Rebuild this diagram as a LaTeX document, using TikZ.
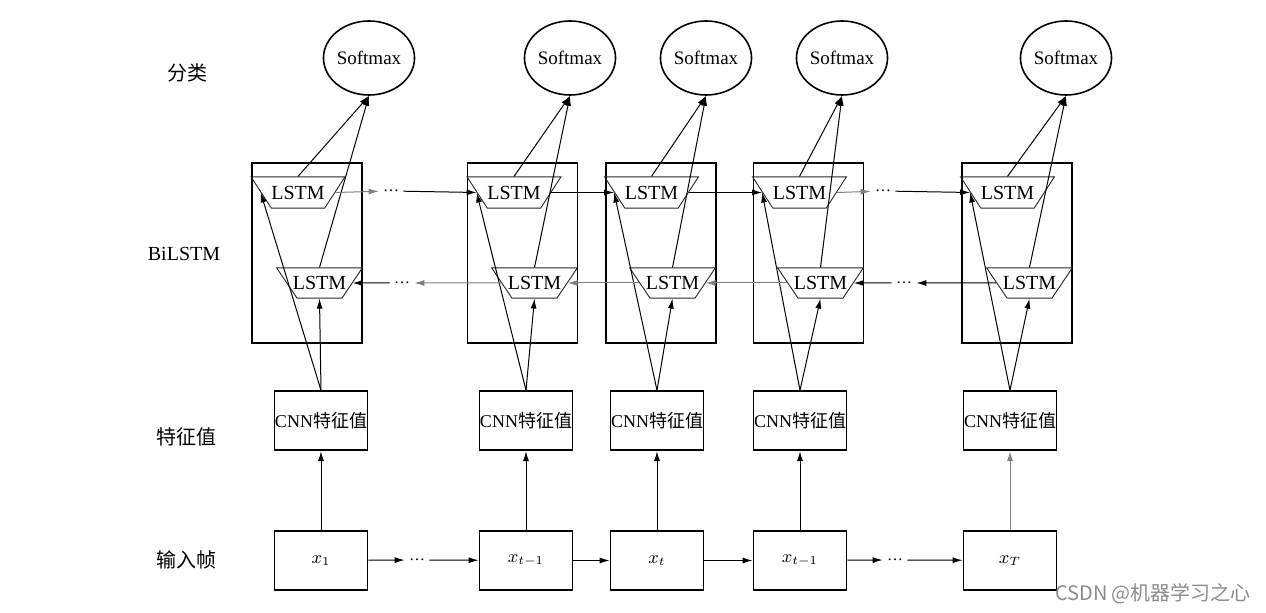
\documentclass[tikz,border=0pt]{standalone}
\usepackage{fontspec}
\setmainfont{Liberation Serif}
\newfontfamily\cjk{Noto Sans CJK SC}
\usetikzlibrary{arrows.meta,positioning,shapes.geometric}
\colorlet{lgray}{black!50}

\begin{document}
\begin{tikzpicture}[x=0.5pt, y=-0.5pt,
      bil/.style={draw, line width=0.9pt, minimum width=55pt, minimum height=90pt},
      blk/.style={draw, line width=0.9pt, minimum width=46.5pt, minimum height=29.5pt, inner sep=0pt,
                  font=\fontsize{9}{10}\selectfont},
      lstm/.style={draw=black!85, line width=0.45pt, trapezium, shape border rotate=180,
                   trapezium angle=57, inner xsep=0pt, inner ysep=4.45pt,
                   font=\fontsize{10}{11}\selectfont},
      lstmb/.style={lstm, trapezium angle=56, inner xsep=-2.1pt, inner ysep=4.2pt},
      smx/.style={draw, ellipse, line width=0.8pt, minimum width=44pt, minimum height=37pt,
                  inner sep=0pt, font=\fontsize{9.5}{10}\selectfont},
      dt/.style={inner sep=2pt, font=\fontsize{8}{8}\selectfont},
      lbl/.style={font=\fontsize{10}{12}\selectfont},
      arr/.style={-{Latex[length=5pt,width=3pt]}, line width=0.5pt}]
    \useasboundingbox (0,0) rectangle (1266,613);
    % left labels
    \node[lbl] (ln1) at (187,73) {\cjk 分类};
    \node[lbl] (ln2) at (184,254) {BiLSTM};
    \node[lbl] (ln3) at (186,437) {\cjk 特征值};
    \node[lbl] (ln4) at (186,560) {\cjk 输入帧};
    % BiLSTM boxes
    \node[bil] (b1) at (307,253) {};
    \node[bil] (b2) at (522.5,253) {};
    \node[bil] (b3) at (661,253) {};
    \node[bil] (b4) at (808.5,253) {};
    \node[bil] (b5) at (1017,253) {};
    % forward / backward LSTM
    \node[lstm] (f1) at (298,192.5) {LSTM};
    \node[lstm] (f2) at (514,192.5) {LSTM};
    \node[lstm] (f3) at (651.5,192.5) {LSTM};
    \node[lstm] (f4) at (799.5,192.5) {LSTM};
    \node[lstm] (f5) at (1007.5,192.5) {LSTM};
    \node[lstmb] (l1) at (319.5,283) {LSTM};
    \node[lstmb] (l2) at (534.5,283) {LSTM};
    \node[lstmb] (l3) at (672.5,283) {LSTM};
    \node[lstmb] (l4) at (820.5,283) {LSTM};
    \node[lstmb] (l5) at (1029.5,283) {LSTM};
    % softmax
    \node[smx] (s1) at (369,58) {Softmax};
    \node[smx] (s2) at (570,58) {Softmax};
    \node[smx] (s3) at (706,58) {Softmax};
    \node[smx] (s4) at (842,58) {Softmax};
    \node[smx] (s5) at (1066,58) {Softmax};
    % frames and CNN features
    \node[blk] (x1) at (321,560.5) {$x_1$};
    \node[blk] (x2) at (526,560.5) {$x_{t-1}$};
    \node[blk] (x3) at (657,560.5) {$x_t$};
    \node[blk] (x4) at (800,560.5) {$x_{t-1}$};
    \node[blk] (x5) at (1010,560.5) {$x_T$};
    \node[blk, above=39.5pt of x1] (c1) {CNN{\cjk 特征值}};
    \node[blk, above=39.5pt of x2] (c2) {CNN{\cjk 特征值}};
    \node[blk, above=39.5pt of x3] (c3) {CNN{\cjk 特征值}};
    \node[blk, above=39.5pt of x4] (c4) {CNN{\cjk 特征值}};
    \node[blk, above=39.5pt of x5] (c5) {CNN{\cjk 特征值}};
    % dots
    \node[dt] (d1) at (391,191) {\dots};
    \node[dt] (d2) at (883,191) {\dots};
    \node[dt] (d3) at (904,283) {\dots};
    \node[dt] (d4) at (402,283) {\dots};
    \node[dt] (d5) at (417,560) {\dots};
    \node[dt] (d6) at (895,560) {\dots};
    % vertical connections
    \foreach \i in {1,...,5} {
      \draw[arr] (f\i.north) -- (s\i.south);
      \draw[arr] (l\i.north) -- (s\i.south);
      \draw[arr] (c\i.north) -- (l\i.south);
      \draw[arr] (c\i.north) -- (f\i.west);
    }
    \draw[arr] (x1) -- (c1); \draw[arr] (x2) -- (c2); \draw[arr] (x3) -- (c3); \draw[arr] (x4) -- (c4);
    \draw[arr, lgray] (x5) -- (c5);
    % forward chain
    \draw[arr, lgray] (f1.east) -- (d1); \draw[arr] (d1) -- (f2.west);
    \draw[arr] (f2.east) -- (f3.west); \draw[arr] (f3.east) -- (f4.west);
    \draw[arr, lgray] (f4.east) -- (d2); \draw[arr] (d2) -- (f5.west);
    % backward chain
    \draw[arr] (l5.west) -- (d3); \draw[arr] (d3) -- (l4.east);
    \draw[arr, lgray] (l4.west) -- (l3.east); \draw[arr, lgray] (l3.west) -- (l2.east);
    \draw[arr, lgray] (l2.west) -- (d4); \draw[arr] (d4) -- (l1.east);
    % frame chain
    \draw[arr] (x1) -- (d5); \draw[arr] (d5) -- (x2);
    \draw[arr] (x2) -- (x3); \draw[arr] (x3) -- (x4);
    \draw[arr] (x4) -- (d6); \draw[arr] (d6) -- (x5);
    \node[font=\cjk\fontsize{10}{12}\selectfont, text=black!45] (wm) at (1153,594) {CSDN @机器学习之心};
  \end{tikzpicture}
\end{document}
